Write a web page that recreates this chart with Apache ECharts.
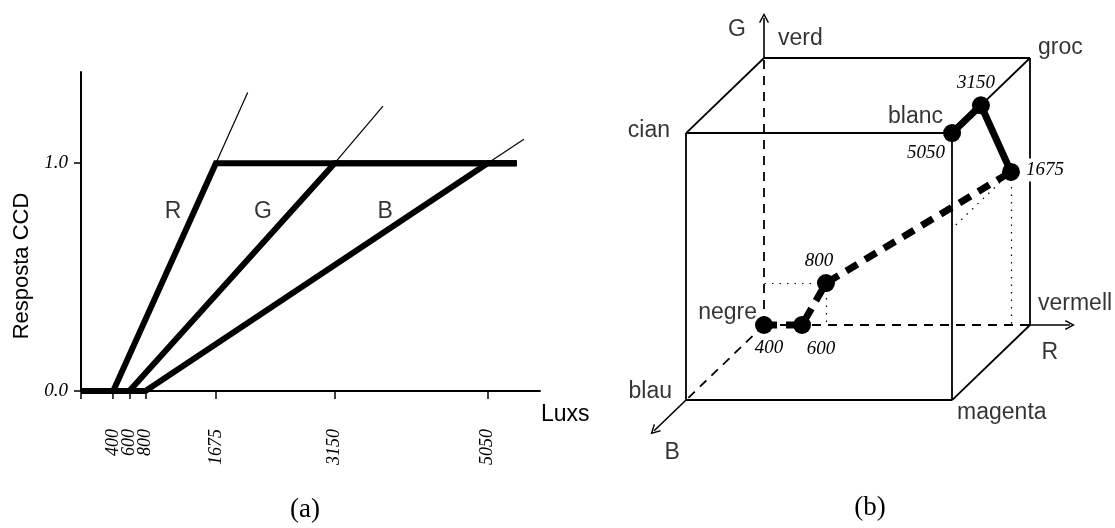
<!DOCTYPE html>
<html><head><meta charset="utf-8">
<script src="https://cdn.jsdelivr.net/npm/echarts@6/dist/echarts.min.js"></script>
<style>html,body{margin:0;padding:0;background:#fff}#c{width:1115px;height:528px}</style>
</head><body><div id="c"></div>
<script>
// ---------- panel (a): CCD response vs illuminance ----------
const luxTicks = [400, 600, 800, 1675, 3150, 5050];
const respTicks = [0, 1];
const respR = [[0, 0], [400, 0], [1675, 1], [5410, 1]];
const respG = [[0, 0], [600, 0], [3150, 1], [5410, 1]];
const respB = [[0, 0], [800, 0], [5050, 1], [5410, 1]];
const extR = [[1675, 1], [2070, 1.31]];
const extG = [[3150, 1], [3750, 1.25]];
const extB = [[5050, 1], [5500, 1.105]];
const curveNames = ['R', 'G', 'B'];

// ---------- panel (b): RGB cube (r, g, b in 0..1) ----------
const cubeCorners = {
  negre: [0, 0, 0], vermell: [1, 0, 0], verd: [0, 1, 0], blau: [0, 0, 1],
  groc: [1, 1, 0], magenta: [1, 0, 1], cian: [0, 1, 1], blanc: [1, 1, 1]
};
const solidEdges = [['verd', 'groc'], ['groc', 'vermell'], ['cian', 'blanc'], ['blanc', 'magenta'],
  ['magenta', 'blau'], ['blau', 'cian'], ['cian', 'verd'], ['blanc', 'groc'], ['magenta', 'vermell']];
const hiddenEdges = [['negre', 'verd'], ['negre', 'vermell'], ['negre', 'blau']];
const axisNames = ['G', 'R', 'B'];
const axisTips = [[0, 1.15, 0], [1.15, 0, 0], [0, 0, 1.41]];
const axisBase = ['verd', 'vermell', 'blau'];
const pathLux = ['400', '600', '800', '1675', '3150', '5050'];
const pathRGB = [[0, 0, 0], [0.143, 0, 0], [0.233, 0.157, 0], [1, 0.642, 0.244], [1, 1, 0.63], [1, 1, 1]];
const guideLines = [
  [[0.233, 0.157, 0], [0, 0.157, 0]],
  [[0.233, 0.157, 0], [0.233, 0, 0]],
  [[1, 0.642, 0.244], [1, 0.07, 0.244]],
  [[1, 0.642, 0.244], [1, 0.642, 1]]
];

// oblique projection of the cube (layout parameters)
const KX = -0.293, KY = -0.281;
const proj = p => [p[0] + KX * p[2], p[1] + KY * p[2]];

const SANS = 'Liberation Sans, Arial, sans-serif';
const SERIF = 'Liberation Serif, Times New Roman, serif';
const numLabel = {fontFamily: SERIF, fontStyle: 'italic', fontSize: 19, color: '#000'};
const wordLabel = {fontFamily: SANS, fontSize: 23, color: '#000'};

const chart = echarts.init(document.getElementById('c'), null, {renderer: 'canvas'});

const thick = {color: '#000', width: 6, join: 'miter', cap: 'butt'};
const thin = {color: '#000', width: 1.2};
function lineSeries(data, style, z) {
  return {type: 'line', xAxisIndex: 0, yAxisIndex: 0, data: data, showSymbol: false, symbol: 'none',
    lineStyle: style, z: z || 2, silent: true, animation: false};
}

// panel (b) label placement
const pointLabelCfg = [
  {align: 'center', offset: [5, 23]},
  {align: 'center', offset: [19, 24]},
  {align: 'center', offset: [-7, -22]},
  {align: 'left', offset: [14, -2], backgroundColor: '#fff', padding: [2, 1]},
  {align: 'center', offset: [-5, -22]},
  {align: 'right', offset: [-7, 20]}
];
const cornerLabelCfg = {
  verd: {align: 'left', offset: [14, -19]},
  cian: {align: 'right', offset: [-16, -2]},
  groc: {align: 'left', offset: [8, -10]},
  blanc: {align: 'right', offset: [-9, -16]},
  negre: {align: 'right', offset: [-7, -12]},
  vermell: {align: 'left', offset: [8, -21]},
  blau: {align: 'right', offset: [-14, -8]},
  magenta: {align: 'left', offset: [5, 13]}
};
const axisLabelCfg = [
  {align: 'center', offset: [-27, 12]},
  {align: 'center', offset: [-20, 28]},
  {align: 'center', offset: [18, 22]}
];
const chevron = 'path://M50,0 L100,92 L88,100 L50,30 L12,100 L0,92 Z';
// axis origin is included so that the custom tick list starts at the axis start
const xTickValues = [0].concat(luxTicks);

const option = {
  backgroundColor: '#fff',
  animation: false,
  grid: [
    {left: 81, right: 575, top: 72, bottom: 137, outerBoundsMode: 'none', containLabel: false},
    {left: 631, right: 18.5, top: 4.6, bottom: 42.8, outerBoundsMode: 'none', containLabel: false}
  ],
  xAxis: [
    {type: 'value', gridIndex: 0, min: 0, max: 5700,
      axisLine: {show: true, onZero: false, lineStyle: {color: '#000', width: 2}},
      axisTick: {show: true, customValues: xTickValues, length: 8, lineStyle: {color: '#000', width: 1.5}},
      axisLabel: Object.assign({show: true, customValues: xTickValues, rotate: 90, margin: 38,
        hideOverlap: false, interval: 0, showMinLabel: true,
        formatter: v => (v === 0 ? '' : String(v))}, numLabel, {fontSize: 18}),
      splitLine: {show: false}},
    {type: 'value', gridIndex: 1, min: -0.5, max: 1.25, show: false}
  ],
  yAxis: [
    {type: 'value', gridIndex: 0, min: 0, max: 1.4,
      axisLine: {show: true, onZero: false, lineStyle: {color: '#000', width: 2}},
      axisTick: {show: true, customValues: respTicks, length: 7, lineStyle: {color: '#000', width: 1.5}},
      axisLabel: Object.assign({show: true, customValues: respTicks, margin: 13, hideOverlap: false,
        formatter: v => Number(v).toFixed(1)}, numLabel),
      splitLine: {show: false}},
    {type: 'value', gridIndex: 1, min: -0.6, max: 1.2, show: false}
  ],
  series: [
    lineSeries(extR, thin, 1), lineSeries(extG, thin, 1), lineSeries(extB, thin, 1),
    lineSeries(respB, thick, 2), lineSeries(respG, thick, 3), lineSeries(respR, thick, 4),
    {type: 'scatter', xAxisIndex: 0, yAxisIndex: 0, symbolSize: 1, itemStyle: {color: 'rgba(0,0,0,0)'},
      silent: true, z: 5,
      data: [[1143, 0.785], [2261, 0.785], [3776, 0.785]].map((v, i) => ({value: v, name: curveNames[i]})),
      label: Object.assign({show: true, position: 'inside', formatter: p => p.name}, wordLabel)},

    // cube edges
    {type: 'lines', coordinateSystem: 'cartesian2d', xAxisIndex: 1, yAxisIndex: 1, silent: true, z: 1,
      lineStyle: {color: '#000', width: 1.8, opacity: 1},
      data: solidEdges.map(e => ({coords: [proj(cubeCorners[e[0]]), proj(cubeCorners[e[1]])]}))},
    {type: 'lines', coordinateSystem: 'cartesian2d', xAxisIndex: 1, yAxisIndex: 1, silent: true, z: 1,
      lineStyle: {color: '#000', width: 1.8, type: [9, 7], opacity: 1},
      data: hiddenEdges.map(e => ({coords: [proj(cubeCorners[e[0]]), proj(cubeCorners[e[1]])]}))},
    {type: 'lines', coordinateSystem: 'cartesian2d', xAxisIndex: 1, yAxisIndex: 1, silent: true, z: 1,
      lineStyle: {color: '#000', width: 1.6, opacity: 1},
      symbol: ['none', chevron], symbolSize: [11, 10],
      data: axisTips.map((t, i) => ({coords: [proj(cubeCorners[axisBase[i]]), proj(t)]}))},
    {type: 'lines', coordinateSystem: 'cartesian2d', xAxisIndex: 1, yAxisIndex: 1, silent: true, z: 1,
      lineStyle: {color: '#000', width: 1.2, type: [1.5, 6], opacity: 1},
      data: guideLines.map(g => ({coords: [proj(g[0]), proj(g[1])]}))},

    // illuminance path
    {type: 'line', xAxisIndex: 1, yAxisIndex: 1, showSymbol: false, symbol: 'none', silent: true, z: 3,
      lineStyle: {color: '#000', width: 7, type: [13, 9], cap: 'butt'},
      data: pathRGB.slice(0, 4).map(proj)},
    {type: 'line', xAxisIndex: 1, yAxisIndex: 1, showSymbol: false, symbol: 'none', silent: true, z: 3,
      lineStyle: {color: '#000', width: 7, join: 'miter'},
      data: pathRGB.slice(3).map(proj)},
    {type: 'scatter', xAxisIndex: 1, yAxisIndex: 1, symbolSize: 18, itemStyle: {color: '#000', opacity: 1},
      silent: true, z: 4,
      data: pathRGB.map((p, i) => ({value: proj(p), name: pathLux[i],
        label: Object.assign({show: true, position: 'inside', formatter: pathLux[i]}, numLabel, pointLabelCfg[i])}))},
    {type: 'scatter', xAxisIndex: 1, yAxisIndex: 1, symbolSize: 1, itemStyle: {color: 'rgba(0,0,0,0)'}, silent: true, z: 5,
      data: Object.keys(cornerLabelCfg).map(k => ({value: proj(cubeCorners[k]), name: k,
        label: Object.assign({show: true, position: 'inside', formatter: k}, wordLabel, cornerLabelCfg[k])}))
        .concat(axisTips.map((t, i) => ({value: proj(t), name: axisNames[i],
        label: Object.assign({show: true, position: 'inside', formatter: axisNames[i]}, wordLabel, axisLabelCfg[i])})))}
  ],
  graphic: [
    {type: 'text', x: 22, y: 266, rotation: Math.PI / 2,
      style: {text: 'Resposta CCD', font: '22px ' + SANS, fill: '#000', align: 'center', verticalAlign: 'middle'}},
    {type: 'text', x: 541, y: 415,
      style: {text: 'Luxs', font: '23px ' + SANS, fill: '#000', align: 'left', verticalAlign: 'middle'}},
    {type: 'text', x: 305, y: 510,
      style: {text: '(a)', font: '27px ' + SERIF, fill: '#000', align: 'center', verticalAlign: 'middle'}},
    {type: 'text', x: 870, y: 508,
      style: {text: '(b)', font: '27px ' + SERIF, fill: '#000', align: 'center', verticalAlign: 'middle'}}
  ]
};
chart.setOption(option);
</script>
</body></html>
